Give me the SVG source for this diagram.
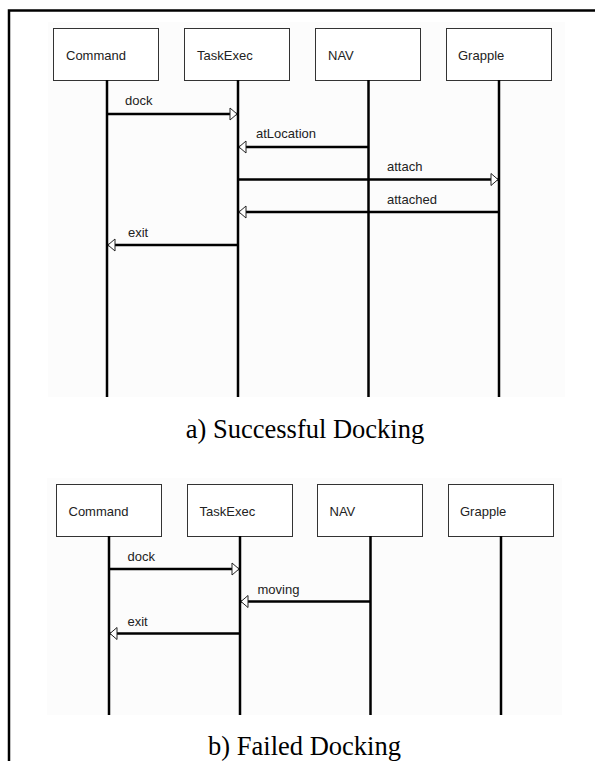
<svg xmlns="http://www.w3.org/2000/svg" width="595" height="761" viewBox="0 0 595 761">
<style>
.box{fill:#ffffff;stroke:#333333;stroke-width:1}
.nm{font-family:"Liberation Sans",Arial,sans-serif;font-size:13px;fill:#222222}
.life{stroke:#000000;stroke-width:2.5;fill:none}
.msg{stroke:#000000;stroke-width:2.5;fill:none;marker-end:url(#open)}
.cap{font-family:"Liberation Serif","Times New Roman",serif;font-size:26.5px;fill:#000000;text-anchor:middle}
.frame{stroke:#000000;stroke-width:2.5;fill:none}
.tint{fill:#fcfcfc}
</style>
<defs>
<marker id="open" markerUnits="userSpaceOnUse" markerWidth="12" markerHeight="16" viewBox="0 0 12 16" refX="9" refY="8" orient="auto">
<path d="M2,2 L9,8 L2,14 Z" fill="#ffffff" stroke="#222222" stroke-width="1"/>
</marker>
</defs>
<rect width="595" height="761" fill="#ffffff"/>
<path class="frame" d="M9,761 L9,10.5 L595,10.5"/>
<rect class="tint" x="48" y="22" width="517" height="375"/>
<rect class="tint" x="47" y="478" width="515" height="237"/>

<g id="a-command"><rect class="box" x="53.5" y="28.5" width="105" height="52"/><text class="nm" x="66" y="60">Command</text><line class="life" x1="107" y1="80" x2="107" y2="397"/></g>
<g id="a-taskexec"><rect class="box" x="184.5" y="28.5" width="105" height="52"/><text class="nm" x="197" y="60">TaskExec</text><line class="life" x1="238" y1="80" x2="238" y2="397"/></g>
<g id="a-nav"><rect class="box" x="315.5" y="28.5" width="105" height="52"/><text class="nm" x="328" y="60">NAV</text><line class="life" x1="368.5" y1="80" x2="368.5" y2="397"/></g>
<g id="a-grapple"><rect class="box" x="446.5" y="28.5" width="105" height="52"/><text class="nm" x="458" y="60">Grapple</text><line class="life" x1="499" y1="80" x2="499" y2="397"/></g>

<g id="a-connectors">
<line class="msg" x1="107" y1="114" x2="237" y2="114"/><text class="nm" x="125" y="105">dock</text>
<line class="msg" x1="368.5" y1="147" x2="239" y2="147"/><text class="nm" x="256" y="138">atLocation</text>
<line class="msg" x1="238" y1="179.5" x2="498" y2="179.5"/><text class="nm" x="387" y="171">attach</text>
<line class="msg" x1="499" y1="212" x2="239" y2="212"/><text class="nm" x="387" y="203.5">attached</text>
<line class="msg" x1="238" y1="245" x2="108" y2="245"/><text class="nm" x="128" y="236.5">exit</text>
</g>
<text class="cap" x="305" y="438">a) Successful Docking</text>

<g id="b-command"><rect class="box" x="56.5" y="484.5" width="105" height="52"/><text class="nm" x="68.5" y="516">Command</text><line class="life" x1="109" y1="536" x2="109" y2="715"/></g>
<g id="b-taskexec"><rect class="box" x="187.5" y="484.5" width="105" height="52"/><text class="nm" x="199.5" y="516">TaskExec</text><line class="life" x1="240" y1="536" x2="240" y2="715"/></g>
<g id="b-nav"><rect class="box" x="317.5" y="484.5" width="105" height="52"/><text class="nm" x="329.5" y="516">NAV</text><line class="life" x1="370.5" y1="536" x2="370.5" y2="715"/></g>
<g id="b-grapple"><rect class="box" x="448.5" y="484.5" width="105" height="52"/><text class="nm" x="460" y="516">Grapple</text><line class="life" x1="501" y1="536" x2="501" y2="715"/></g>

<g id="b-connectors">
<line class="msg" x1="109" y1="569" x2="239" y2="569"/><text class="nm" x="127.5" y="560.5">dock</text>
<line class="msg" x1="370.5" y1="601.5" x2="241" y2="601.5"/><text class="nm" x="257.5" y="594">moving</text>
<line class="msg" x1="240" y1="633.5" x2="110" y2="633.5"/><text class="nm" x="127.5" y="626">exit</text>
</g>
<text class="cap" x="304.5" y="755">b) Failed Docking</text>
</svg>
